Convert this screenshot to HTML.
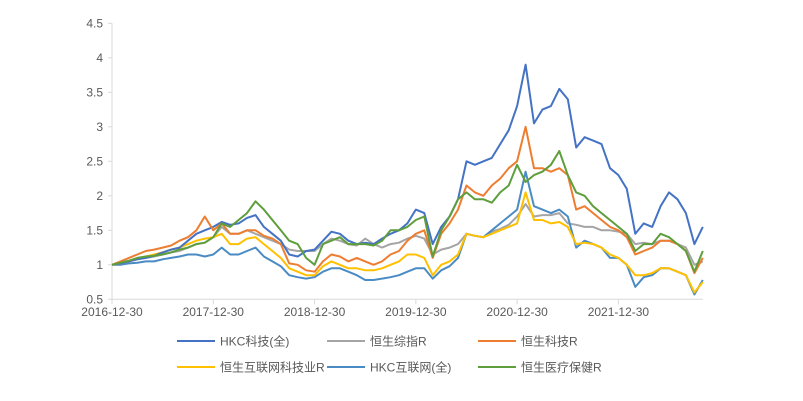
<!DOCTYPE html>
<html><head><meta charset="utf-8">
<style>
body{margin:0;background:#fff;}
svg{display:block;font-family:"Liberation Sans","Noto Sans CJK SC",sans-serif;}
</style></head>
<body>
<svg id="chart" width="803" height="401" viewBox="0 0 803 401" xmlns="http://www.w3.org/2000/svg">
<rect width="803" height="401" fill="#fff"/>
<g id="axes"></g>
<g id="lines"></g>
<g id="legend"></g>
</svg>
<script>
const yTicks = [0.5,1,1.5,2,2.5,3,3.5,4,4.5];
const yTickLabels = ["0.5","1","1.5","2","2.5","3","3.5","4","4.5"];
const xTickMonths = [0,12,24,36,48,60];
const xTickLabels = ["2016-12-30","2017-12-30","2018-12-30","2019-12-30","2020-12-30","2021-12-30"];
const seriesNames = ["HKC科技(全)","恒生综指R","恒生科技R","恒生互联网科技业R","HKC互联网(全)","恒生医疗保健R"];
const hkcTech = [1.0,1.02,1.05,1.08,1.1,1.13,1.18,1.22,1.25,1.35,1.45,1.5,1.55,1.62,1.58,1.6,1.68,1.72,1.55,1.45,1.35,1.15,1.12,1.2,1.22,1.35,1.48,1.45,1.35,1.3,1.32,1.3,1.38,1.45,1.5,1.6,1.8,1.75,1.3,1.55,1.7,1.95,2.5,2.45,2.5,2.55,2.75,2.95,3.3,3.9,3.05,3.25,3.3,3.55,3.4,2.7,2.85,2.8,2.75,2.4,2.3,2.1,1.45,1.6,1.55,1.85,2.05,1.95,1.75,1.3,1.55];
const hsComp = [1.0,1.02,1.05,1.08,1.1,1.12,1.15,1.18,1.2,1.25,1.3,1.32,1.4,1.55,1.45,1.45,1.5,1.45,1.4,1.35,1.3,1.22,1.2,1.2,1.2,1.3,1.38,1.35,1.3,1.28,1.38,1.3,1.25,1.3,1.32,1.38,1.42,1.38,1.15,1.22,1.25,1.3,1.45,1.42,1.4,1.48,1.52,1.58,1.7,1.88,1.7,1.72,1.72,1.75,1.6,1.58,1.55,1.55,1.5,1.5,1.48,1.45,1.3,1.32,1.3,1.35,1.35,1.3,1.25,1.0,1.05];
const hsTech = [1.0,1.05,1.1,1.15,1.2,1.22,1.25,1.28,1.35,1.4,1.5,1.7,1.5,1.6,1.45,1.45,1.5,1.5,1.42,1.38,1.3,1.02,1.0,0.92,0.9,1.05,1.15,1.12,1.05,1.1,1.05,1.0,1.05,1.15,1.2,1.35,1.45,1.5,1.1,1.45,1.6,1.8,2.15,2.05,2.0,2.15,2.25,2.4,2.5,3.0,2.4,2.4,2.35,2.4,2.3,1.8,1.85,1.75,1.65,1.55,1.5,1.4,1.15,1.2,1.25,1.35,1.35,1.3,1.2,0.88,1.1];
const hsInternet = [1.0,1.02,1.05,1.08,1.12,1.15,1.18,1.22,1.25,1.3,1.35,1.38,1.4,1.45,1.3,1.3,1.38,1.4,1.3,1.2,1.1,0.95,0.9,0.85,0.85,0.98,1.05,1.0,0.95,0.95,0.92,0.92,0.95,1.0,1.05,1.15,1.15,1.1,0.85,1.0,1.05,1.15,1.45,1.42,1.4,1.45,1.5,1.55,1.6,2.05,1.65,1.65,1.6,1.62,1.55,1.3,1.32,1.3,1.25,1.15,1.1,1.0,0.85,0.85,0.88,0.95,0.95,0.9,0.85,0.6,0.75];
const hkcInternet = [1.0,1.0,1.02,1.03,1.05,1.05,1.08,1.1,1.12,1.15,1.15,1.12,1.15,1.25,1.15,1.15,1.2,1.25,1.12,1.05,0.98,0.85,0.82,0.8,0.82,0.9,0.95,0.95,0.9,0.85,0.78,0.78,0.8,0.82,0.85,0.9,0.95,0.95,0.8,0.92,0.98,1.1,1.45,1.42,1.4,1.5,1.6,1.7,1.8,2.35,1.85,1.8,1.75,1.8,1.7,1.25,1.35,1.3,1.25,1.1,1.1,1.0,0.68,0.82,0.85,0.95,0.95,0.9,0.85,0.57,0.78];
const hsHealth = [1.0,1.03,1.06,1.1,1.12,1.13,1.15,1.18,1.22,1.25,1.3,1.32,1.4,1.6,1.55,1.65,1.75,1.92,1.8,1.65,1.5,1.35,1.3,1.1,1.0,1.3,1.35,1.4,1.3,1.3,1.3,1.28,1.35,1.5,1.5,1.55,1.65,1.7,1.12,1.5,1.7,1.95,2.05,1.95,1.95,1.9,2.05,2.15,2.45,2.2,2.3,2.35,2.45,2.65,2.3,2.05,2.0,1.85,1.75,1.65,1.55,1.45,1.2,1.3,1.3,1.45,1.4,1.3,1.2,0.9,1.2];

const allSeries = [hkcTech,hsComp,hsTech,hsInternet,hkcInternet,hsHealth];
const colors = ["#4472C4","#A5A5A5","#ED7D31","#FFC000","#4A8BC4","#5E9E3C"];
const slugs = ["hkc-tech","hs-composite","hs-tech","hs-internet-tech","hkc-internet","hs-healthcare"];
const drawOrder = [1,4,3,0,2,5];

const NS="http://www.w3.org/2000/svg";
const x = m => 112 + m*8.44;
const y = v => 299.3 - (v-0.5)*69;
function mk(tag, attrs, parent){const e=document.createElementNS(NS,tag);for(const k in attrs)e.setAttribute(k,attrs[k]);parent.appendChild(e);return e;}

const axes=document.getElementById('axes');
const yAxis=mk('line',{x1:112,y1:y(4.5),x2:112,y2:y(0.5),stroke:'#d9d9d9','stroke-width':1},axes);


const xAxis=mk('line',{x1:112,y1:y(0.5),x2:703,y2:y(0.5),stroke:'#d9d9d9','stroke-width':1},axes);


yTicks.forEach((v,i)=>{
  const t=mk('text',{x:103,y:y(v)+4,'text-anchor':'end','font-size':12,fill:'#595959'},axes);
  t.textContent=yTickLabels[i];
  
  
  const tk=mk('line',{x1:108,y1:y(v),x2:112,y2:y(v),stroke:'#d9d9d9'},axes);
  
  
});
xTickMonths.forEach((m,i)=>{
  const tk=mk('line',{x1:x(m),y1:y(0.5),x2:x(m),y2:y(0.5)+5,stroke:'#d9d9d9'},axes);
  
  
  const t=mk('text',{x:x(m),y:316,'text-anchor':'middle','font-size':12,fill:'#595959'},axes);
  t.textContent=xTickLabels[i];
  
  
});

const lines=document.getElementById('lines');
drawOrder.forEach(si=>{
  const d=allSeries[si].map((v,m)=>(m?'L':'M')+x(m).toFixed(1)+','+y(v).toFixed(1)).join('');
  const p=mk('path',{d:d,fill:'none',stroke:colors[si],'stroke-width':2,'stroke-linejoin':'round'},lines);
  
  
});

const legend=document.getElementById('legend');
const lx=[177,327,478], ly=[341,367];
seriesNames.forEach((n,i)=>{
  const cx=lx[i%3], cy=ly[Math.floor(i/3)];
  const g=mk('g',{},legend);
  
  
  mk('line',{x1:cx,y1:cy,x2:cx+38,y2:cy,stroke:colors[i],'stroke-width':2},g);
  const t=mk('text',{x:cx+43,y:cy+4.5,'font-size':12,fill:'#595959'},g);
  t.textContent=n;
});
</script>
</body></html>
